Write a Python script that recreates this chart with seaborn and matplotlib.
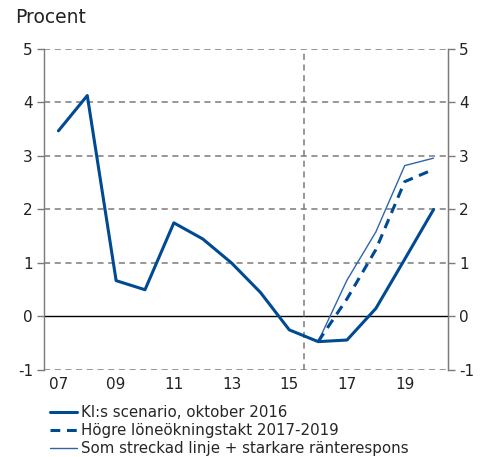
import numpy as np
import pandas as pd
import matplotlib
matplotlib.use("Agg")
import matplotlib.pyplot as plt
import seaborn as sns

# data
years = list(range(2007, 2021))
ki_scenario = [3.47, 4.13, 0.67, 0.5, 1.75, 1.45, 1.0, 0.45, -0.25, -0.47, -0.44, 0.15, 1.07, 2.0]
hogre_years = [2016, 2017, 2018, 2019, 2020]
hogre_lon = [-0.47, 0.33, 1.25, 2.52, 2.75]
starkare_years = [2016, 2017, 2018, 2019, 2020]
starkare_ranta = [-0.47, 0.68, 1.58, 2.82, 2.96]
xlabels = ["07", "09", "11", "13", "15", "17", "19"]

dark_blue = "#004a93"
light_blue = "#2f66a9"
grid_grey = "#7a7a7a"
text_col = "#222222"

sns.set_style("white")
plt.rcParams["font.family"] = ["DejaVu Sans"]
plt.rcParams["axes.unicode_minus"] = False

fig = plt.figure(figsize=(4.84, 4.57), dpi=100)
ax = fig.add_axes([0.0909, 0.1904, 0.8347, 0.7024])

df1 = pd.DataFrame({"year": years, "value": ki_scenario})
df2 = pd.DataFrame({"year": hogre_years, "value": hogre_lon})
df3 = pd.DataFrame({"year": starkare_years, "value": starkare_ranta})

# grid lines first
for yv in [-1, 1, 2, 3, 4, 5]:
    ax.axhline(yv, color=grid_grey, lw=1.1, ls=(0, (4, 3)), zorder=1)
ax.axhline(0, color="black", lw=1.0, zorder=1)
ax.axvline(2015.5, color=grid_grey, lw=1.1, ls=(0, (4, 3)), zorder=1)

sns.lineplot(data=df3, x="year", y="value", ax=ax, color=light_blue, lw=1.0,
             label="Som streckad linje + starkare r\u00e4nterespons", zorder=3)
sns.lineplot(data=df2, x="year", y="value", ax=ax, color=dark_blue, lw=2.2,
             label="H\u00f6gre l\u00f6ne\u00f6kningstakt 2017-2019", zorder=4)
sns.lineplot(data=df1, x="year", y="value", ax=ax, color=dark_blue, lw=2.2,
             label="KI:s scenario, oktober 2016", zorder=5)
ax.lines[-2].set_linestyle((0, (3.2, 2.2)))

ax.set_xlim(2006.5, 2020.5)
ax.set_ylim(-1, 5)
ax.set_xlabel("")
ax.set_ylabel("")

ax.set_xticks(list(range(2007, 2021, 2)))
ax.set_xticklabels(xlabels)
ax.set_xticks(np.arange(2006.5, 2021, 1), minor=True)
ax.tick_params(axis="x", which="major", length=0, pad=5, labelsize=11, colors=text_col)
ax.tick_params(axis="x", which="minor", length=4, direction="out", color=grid_grey, width=1)
ax.set_yticks(range(-1, 6))
ax.tick_params(axis="y", length=5, direction="out", color=grid_grey, width=1,
               labelsize=11, colors=text_col, left=True, pad=3)

for side in ["left", "right", "bottom"]:
    ax.spines[side].set_color(grid_grey)
    ax.spines[side].set_linewidth(1)
ax.spines["top"].set_visible(False)
ax.spines["bottom"].set_visible(False)

ax2 = ax.twinx()
ax2.set_ylim(-1, 5)
ax2.set_yticks(range(-1, 6))
ax2.tick_params(axis="y", length=5, direction="out", color=grid_grey, width=1,
                labelsize=11, colors=text_col, right=True, pad=3)
for side in ["left", "top", "bottom"]:
    ax2.spines[side].set_visible(False)
ax2.spines["right"].set_color(grid_grey)

handles, labels = ax.get_legend_handles_labels()
ax.get_legend().remove()
order = [2, 1, 0]
fig.legend([handles[i] for i in order], [labels[i] for i in order],
           loc="upper left", bbox_to_anchor=(0.103, 0.114), frameon=False,
           fontsize=10.8, handlelength=1.8, handletextpad=0.3, labelspacing=0.2,
           borderpad=0, borderaxespad=0)

fig.text(0.031, 0.962, "Procent", fontsize=13.5, ha="left", va="center", color=text_col)

fig.savefig("out.png", dpi=100)
